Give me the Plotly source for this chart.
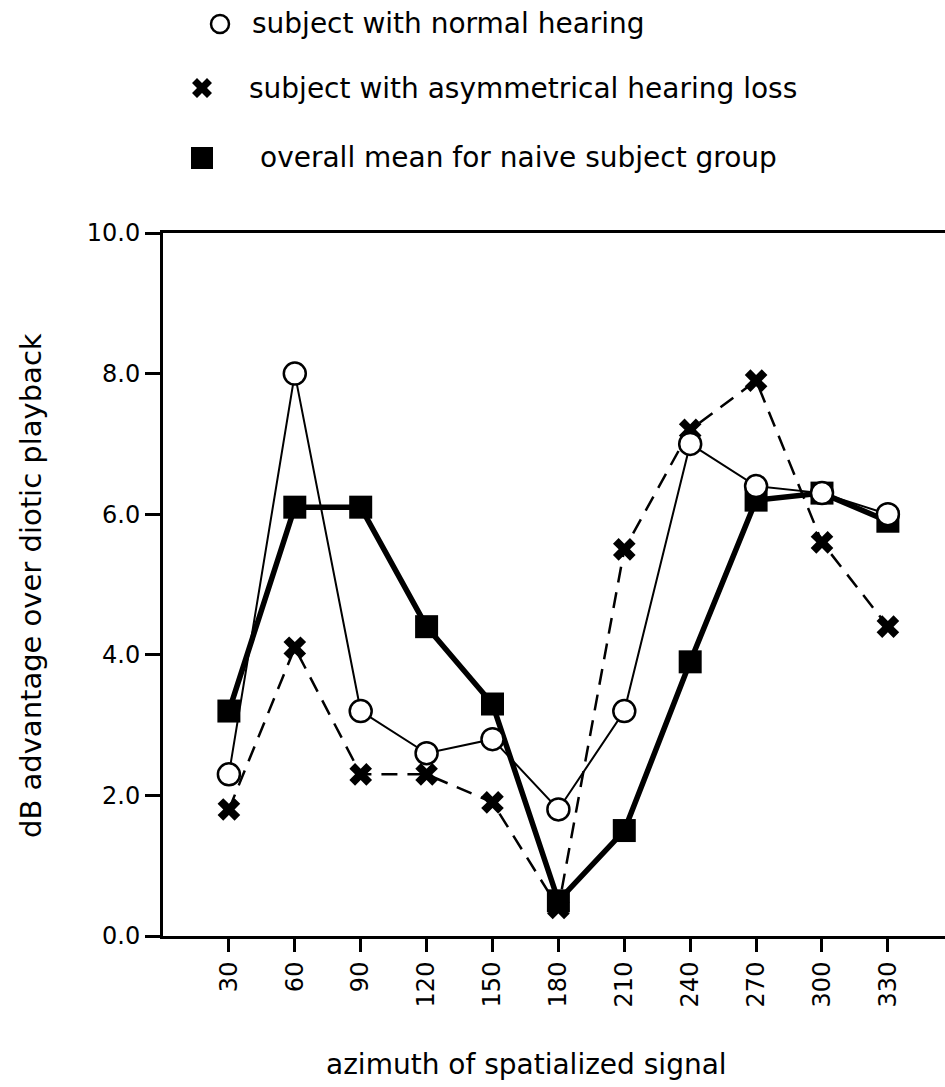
import plotly.graph_objects as go

# ---- data ----
azimuth = [30, 60, 90, 120, 150, 180, 210, 240, 270, 300, 330]
normal_hearing = [2.3, 8.0, 3.2, 2.6, 2.8, 1.8, 3.2, 7.0, 6.4, 6.3, 6.0]
asym_loss = [1.8, 4.1, 2.3, 2.3, 1.9, 0.4, 5.5, 7.2, 7.9, 5.6, 4.4]
naive_mean = [3.2, 6.1, 6.1, 4.4, 3.3, 0.5, 1.5, 3.9, 6.2, 6.3, 5.9]
y_ticks = [0, 2, 4, 6, 8, 10]
y_ticklabels = ["0.0", "2.0", "4.0", "6.0", "8.0", "10.0"]
legend_labels = ["subject with normal hearing",
                 "subject with asymmetrical hearing loss",
                 "overall mean for naive subject group"]

W, H = 945, 1087
ML, MR, MT, MB = 163, 0, 233, 151
PW, PH = W - ML - MR, H - MT - MB
FONT = "DejaVu Sans"


def px(x):
    return (x - ML) / PW


def py(y):
    return (H - MB - y) / PH


fig = go.Figure()

fig.add_trace(go.Scatter(
    x=azimuth, y=asym_loss, mode="lines+markers",
    line=dict(color="black", width=2.5, dash="16px,10px"),
    marker=dict(symbol="x", size=20, color="black", line=dict(width=0)),
    cliponaxis=False, showlegend=False))
fig.add_trace(go.Scatter(
    x=azimuth, y=naive_mean, mode="lines+markers",
    line=dict(color="black", width=5.5),
    marker=dict(symbol="square", size=23, color="black"),
    cliponaxis=False, showlegend=False))
fig.add_trace(go.Scatter(
    x=azimuth, y=normal_hearing, mode="lines+markers",
    line=dict(color="black", width=2),
    marker=dict(symbol="circle", size=22, color="white",
                line=dict(color="black", width=2.5)),
    cliponaxis=False, showlegend=False))

# ---- legend (manual) ----
rows_y = [24, 88, 158]
marker_x = [220, 202, 202]
text_x = [250, 247, 258]
shapes = []
shapes.append(dict(type="circle", xref="paper", yref="paper",
                   xsizemode="pixel", ysizemode="pixel",
                   xanchor=px(marker_x[0]), yanchor=py(rows_y[0]),
                   x0=-9, x1=9, y0=-9, y1=9,
                   line=dict(color="black", width=2.5), fillcolor="white"))
shapes.append(dict(type="path", xref="paper", yref="paper",
                   xsizemode="pixel", ysizemode="pixel",
                   xanchor=px(marker_x[1]), yanchor=py(rows_y[1]),
                   path="M0,5 L5,10 L10,5 L5,0 L10,-5 L5,-10 L0,-5 L-5,-10 L-10,-5 L-5,0 L-10,5 L-5,10 Z",
                   line=dict(color="black", width=0), fillcolor="black"))
shapes.append(dict(type="rect", xref="paper", yref="paper",
                   xsizemode="pixel", ysizemode="pixel",
                   xanchor=px(marker_x[2]), yanchor=py(rows_y[2]),
                   x0=-11, x1=11, y0=-11, y1=11,
                   line=dict(color="black", width=0), fillcolor="black"))

annotations = []
for lab, ty, tx in zip(legend_labels, rows_y, text_x):
    annotations.append(dict(text=lab, xref="paper", yref="paper",
                            x=px(tx), y=py(ty), xanchor="left", yanchor="middle",
                            showarrow=False,
                            font=dict(family=FONT, size=28, color="black")))

annotations.append(dict(text="azimuth of spatialized signal", xref="paper", yref="paper",
                        x=px(526), y=py(1064), xanchor="center", yanchor="middle",
                        showarrow=False, font=dict(family=FONT, size=28, color="black")))
annotations.append(dict(text="dB advantage over diotic playback", xref="paper", yref="paper",
                        x=px(31), y=py(586), xanchor="center", yanchor="middle",
                        textangle=-90, showarrow=False,
                        font=dict(family=FONT, size=29, color="black")))

fig.update_layout(
    width=W, height=H,
    margin=dict(l=ML, r=MR, t=MT, b=MB),
    paper_bgcolor="white", plot_bgcolor="white",
    font=dict(family=FONT, color="black"),
    shapes=shapes, annotations=annotations,
    showlegend=False,
)
fig.update_xaxes(
    range=[0, 356], tickmode="array", tickvals=azimuth,
    ticktext=[str(a) for a in azimuth], tickangle=-90,
    ticks="outside", ticklen=13, tickwidth=3, tickcolor="black",
    showline=True, linewidth=3, linecolor="black", mirror=True,
    showgrid=False, zeroline=False,
    tickfont=dict(family=FONT, size=24, color="black"),
)
fig.update_yaxes(
    range=[0, 10], tickmode="array", tickvals=y_ticks, ticktext=y_ticklabels,
    ticks="outside", ticklen=15, tickwidth=3, tickcolor="black",
    showline=True, linewidth=3, linecolor="black",
    showgrid=False, zeroline=False,
    tickfont=dict(family=FONT, size=24, color="black"),
)

fig.write_html("out.html")
